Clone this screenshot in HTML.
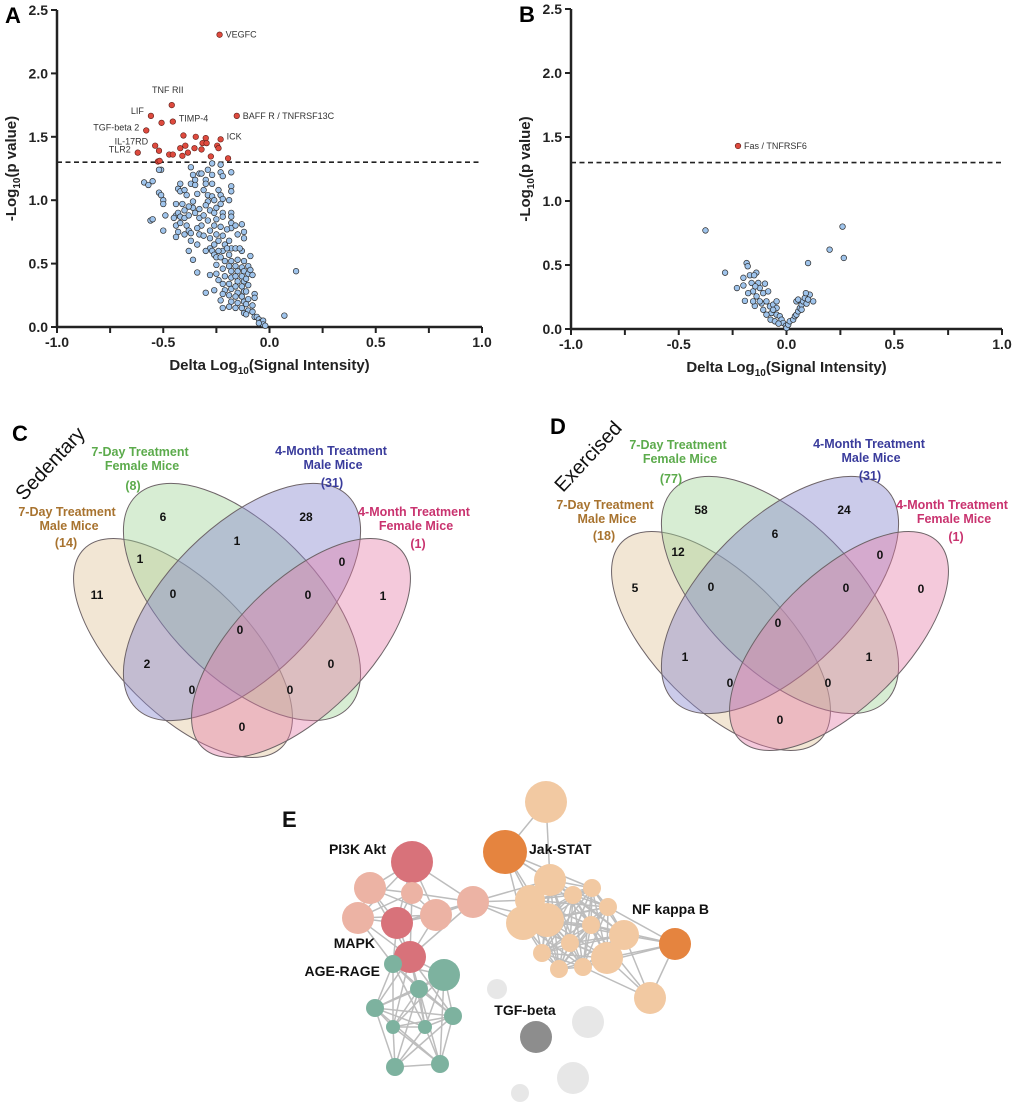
<!DOCTYPE html>
<html><head><meta charset="utf-8"><style>
body{margin:0;background:#fff;}
svg{display:block;font-family:"Liberation Sans",Arial,sans-serif;}
.tk{font-size:14px;font-weight:bold;fill:#222;}
.ttl{font-size:15px;font-weight:bold;fill:#222;}
.pl{font-size:22px;font-weight:bold;fill:#000;}
.gl{font-size:9px;fill:#333;}
.vn{font-size:12px;font-weight:bold;fill:#111;text-anchor:middle;}
.vl{font-size:12.5px;font-weight:bold;text-anchor:middle;}
.nl{font-weight:bold;fill:#111;}
</style></head><body>
<svg id="fig" width="1020" height="1113" viewBox="0 0 1020 1113" xmlns="http://www.w3.org/2000/svg">
<g id="pA"></g>
<g id="pB"></g>
<g id="pC"></g>
<g id="pD"></g>
<g id="pE"></g>
</svg>
<script>
const NS="http://www.w3.org/2000/svg";
// ---- Panel A data ----
const aSigX=[-0.235,-0.46,-0.558,-0.508,-0.455,-0.154,-0.58,-0.405,-0.347,-0.30,-0.23,-0.538,-0.52,-0.62,-0.42,-0.396,-0.353,-0.315,-0.296,-0.32,-0.246,-0.24,-0.384,-0.472,-0.455,-0.41,-0.276,-0.195,-0.525,-0.517];
const aSigY=[2.305,1.75,1.665,1.61,1.62,1.665,1.55,1.51,1.50,1.49,1.48,1.43,1.39,1.375,1.41,1.43,1.41,1.45,1.45,1.40,1.43,1.41,1.375,1.36,1.36,1.35,1.345,1.33,1.305,1.31];
const aLabels=["VEGFC","TNF RII","LIF","TIMP-4","BAFF R / TNFRSF13C","TGF-beta 2","ICK","IL-17RD","TLR2"];
const aLabelIdx=[0,1,2,4,5,6,10,11,13];
const aNsX=[-0.59,-0.57,-0.55,-0.51,-0.52,-0.52,-0.51,-0.50,-0.50,-0.56,-0.55,-0.49,-0.50,-0.43,-0.42,-0.42,-0.41,-0.44,-0.44,-0.43,-0.42,-0.44,-0.43,-0.44,-0.42,-0.40,-0.40,-0.38,-0.39,-0.38,-0.37,-0.40,-0.37,-0.38,-0.36,-0.34,-0.37,-0.36,-0.35,-0.37,-0.35,-0.33,-0.34,-0.36,-0.36,-0.33,-0.35,-0.33,-0.31,-0.32,-0.34,-0.33,-0.34,-0.31,-0.30,-0.30,-0.31,-0.29,-0.29,-0.30,-0.28,-0.29,-0.28,-0.28,-0.28,-0.27,-0.28,-0.30,-0.26,-0.27,-0.29,-0.27,-0.27,-0.27,-0.26,-0.25,-0.26,-0.25,-0.26,-0.25,-0.24,-0.26,-0.26,-0.25,-0.25,-0.25,-0.24,-0.23,-0.23,-0.22,-0.24,-0.23,-0.22,-0.23,-0.22,-0.22,-0.23,-0.22,-0.21,-0.22,-0.23,-0.21,-0.22,-0.21,-0.22,-0.21,-0.22,-0.23,-0.22,-0.18,-0.18,-0.18,-0.19,-0.18,-0.18,-0.18,-0.18,-0.19,-0.18,-0.19,-0.18,-0.19,-0.18,-0.18,-0.19,-0.18,-0.19,-0.18,-0.19,-0.16,-0.15,-0.16,-0.15,-0.16,-0.15,-0.16,-0.15,-0.16,-0.15,-0.16,-0.15,-0.16,-0.13,-0.12,-0.12,-0.13,-0.12,-0.13,-0.12,-0.13,-0.12,-0.13,-0.12,-0.13,-0.12,-0.13,-0.12,-0.10,-0.10,-0.11,-0.10,-0.11,-0.10,-0.11,-0.10,-0.11,-0.08,-0.07,-0.07,-0.08,-0.08,-0.07,-0.06,-0.05,-0.04,-0.03,-0.03,-0.02,-0.05,0.07,0.125,-0.32,-0.40,-0.39,-0.45,-0.38,-0.20,-0.14,-0.09,-0.20,-0.24,-0.30,-0.09];
const aNsY=[1.14,1.12,1.15,1.24,1.24,1.06,1.04,1.00,0.97,0.84,0.85,0.88,0.76,1.09,1.13,1.07,0.97,0.97,0.88,0.90,0.87,0.80,0.75,0.71,0.82,0.92,0.86,0.88,0.80,0.76,0.74,0.73,0.68,0.60,0.53,0.43,1.26,1.20,1.16,1.13,1.12,1.21,1.05,0.99,0.94,0.93,0.90,0.86,0.88,0.80,0.78,0.73,0.65,0.72,1.16,1.13,1.08,1.04,0.99,0.96,0.92,0.84,0.76,0.70,0.62,0.60,0.41,0.27,0.29,1.29,1.24,1.20,1.13,1.03,1.00,0.94,0.90,0.85,0.80,0.73,0.68,0.65,0.57,0.55,0.49,0.42,0.37,1.28,1.22,1.19,1.08,1.04,1.01,0.97,0.90,0.87,0.79,0.72,0.65,0.60,0.55,0.52,0.46,0.40,0.34,0.29,0.26,0.21,0.15,1.22,1.11,1.07,1.00,0.90,0.87,0.82,0.78,0.68,0.62,0.57,0.52,0.48,0.44,0.39,0.34,0.30,0.25,0.20,0.16,0.80,0.73,0.62,0.53,0.48,0.44,0.40,0.36,0.32,0.27,0.24,0.19,0.15,0.81,0.75,0.70,0.60,0.52,0.47,0.44,0.40,0.36,0.32,0.28,0.24,0.20,0.15,0.11,0.48,0.42,0.38,0.33,0.28,0.22,0.18,0.13,0.10,0.41,0.26,0.23,0.17,0.12,0.08,0.08,0.06,0.04,0.05,0.02,0.01,0.03,0.09,0.44,1.21,1.08,1.04,0.86,0.95,0.77,0.62,0.56,0.62,0.60,0.60,0.45];
// ---- Panel B data ----
const bSigX=[-0.225];
const bSigY=[1.43];
const bNsX=[-0.376,-0.285,0.26,0.20,0.266,0.10,-0.185,-0.18,-0.23,-0.20,-0.20,-0.17,-0.14,-0.15,-0.162,-0.131,-0.10,-0.155,-0.124,-0.139,-0.108,-0.147,-0.116,-0.093,-0.108,-0.077,-0.062,-0.046,-0.07,-0.046,-0.093,-0.031,-0.023,-0.015,-0.003,0,0.008,0.015,0.031,0.039,0.046,0.054,0.062,0.07,0.077,0.085,0.046,0.07,0.093,0.108,0.124,0.09,0.10,0.054,-0.046,-0.155,-0.062,-0.074,-0.054,-0.037,-0.193,-0.178,-0.085,-0.124,-0.145];
const bNsY=[0.77,0.44,0.80,0.62,0.555,0.515,0.515,0.49,0.32,0.34,0.40,0.42,0.44,0.42,0.36,0.36,0.354,0.294,0.32,0.255,0.28,0.18,0.20,0.216,0.15,0.177,0.19,0.216,0.125,0.112,0.112,0.10,0.073,0.047,0.026,0.008,0.034,0.06,0.073,0.10,0.112,0.138,0.164,0.19,0.216,0.242,0.216,0.151,0.198,0.268,0.216,0.28,0.23,0.23,0.164,0.216,0.15,0.073,0.06,0.042,0.22,0.28,0.294,0.216,0.333];
const yTicks=[0,0.5,1.0,1.5,2.0,2.5];
const xTicks=[-1,-0.5,0,0.5,1];
const threshold=1.3;

function el(tag,attrs,parent,txt){const e=document.createElementNS(NS,tag);for(const k in attrs)e.setAttribute(k,attrs[k]);if(txt!==undefined)e.textContent=txt;parent.appendChild(e);return e;}

function volcano(g,L,R,T,B,sigX,sigY,nsX,nsY,letter){
  const sx=v=>L+(v+1)/2*(R-L), sy=v=>B-v/2.5*(B-T);
  let t=el('text',{x:L-52,y:T+13,class:'pl'},g,letter);
  
  
  let ax=el('path',{d:`M${L},${T} V${B} H${R}`,fill:'none',stroke:'#222','stroke-width':2.5},g);
  
  
  yTicks.forEach(v=>{el('line',{x1:L-6,x2:L,y1:sy(v),y2:sy(v),stroke:'#222','stroke-width':2},g);
    const tl=el('text',{x:L-9,y:sy(v)+5,class:'tk','text-anchor':'end'},g,v.toFixed(1));
    
    });
  for(let v=-1;v<=1.001;v+=0.25){el('line',{x1:sx(v),x2:sx(v),y1:B,y2:B+6,stroke:'#222','stroke-width':2},g);}
  xTicks.forEach(v=>{const tl=el('text',{x:sx(v),y:B+20,class:'tk','text-anchor':'middle'},g,v.toFixed(1));
    
    });
  const xt=el('text',{x:(L+R)/2,y:B+43,class:'ttl','text-anchor':'middle'},g);
  
  
  xt.innerHTML='Delta Log<tspan font-size="10" dy="4">10</tspan><tspan dy="-4">(Signal Intensity)</tspan>';
  const yt=el('text',{transform:`translate(${L-41},${(T+B)/2}) rotate(-90)`,class:'ttl','text-anchor':'middle'},g);
  
  
  yt.innerHTML='-Log<tspan font-size="10" dy="4">10</tspan><tspan dy="-4">(p value)</tspan>';
  const th=el('line',{x1:L,x2:R,y1:sy(threshold),y2:sy(threshold),stroke:'#222','stroke-width':1.6,'stroke-dasharray':'5,3.5'},g);
  
  
  nsX.forEach((x,i)=>{const c=el('circle',{cx:sx(x),cy:sy(nsY[i]),r:2.8,fill:'#9fc4ec',stroke:'#2d2d2d','stroke-width':0.7},g);
    
    });
  sigX.forEach((x,i)=>{const c=el('circle',{cx:sx(x),cy:sy(sigY[i]),r:2.8,fill:'#de4a3e',stroke:'#5a1a14','stroke-width':0.6},g);
    
    });
  return {sx,sy};
}
const A=volcano(document.getElementById('pA'),57,482,10,327,aSigX,aSigY,aNsX,aNsY,'A');
const aOff=[[6,3,'start'],[-4,-12,'middle'],[-7,-2,'end'],[6,0,'start'],[6,3,'start'],[-7,0,'end'],[6,0,'start'],[-7,-1,'end'],[-7,0,'end']];
aLabelIdx.forEach((idx,k)=>{const o=aOff[k];const t=el('text',{x:A.sx(aSigX[idx])+o[0],y:A.sy(aSigY[idx])+o[1],class:'gl','text-anchor':o[2]},document.getElementById('pA'),aLabels[k]);
  
  });
const Bp=volcano(document.getElementById('pB'),571,1002,9,329,bSigX,bSigY,bNsX,bNsY,'B');
{const t=el('text',{x:Bp.sx(bSigX[0])+6,y:Bp.sy(bSigY[0])+3,class:'gl'},document.getElementById('pB'),'Fas / TNFRSF6');
 
 }

// ---- Venn ----
const vennC=[6,28,1,1,0,11,0,0,1,0,2,0,0,0,0];
const vennD=[58,24,6,12,0,5,0,0,0,0,1,1,0,0,0];
const vennCTotals=["(14)","(8)","(31)","(1)"];
const vennDTotals=["(18)","(77)","(31)","(1)"];
const regionPos=[[163,517],[306,517],[237,541],[140,559],[342,562],[97,595],[173,594],[308,595],[383,596],[240,630],[147,664],[331,664],[192,690],[290,690],[242,727]];
function venn(g,dx,dy,counts,totals,letter,cond){
  const gg=el('g',{transform:`translate(${dx},${dy})`},g);
  const ell=[[183,648,140,66,45,'rgba(226,199,160,0.45)','tan-ellipse'],[242,602,150,75,45,'rgba(160,212,150,0.42)','green-ellipse'],[242,602,150,75,-45,'rgba(130,130,205,0.42)','blue-ellipse'],[301,648,140,66,-45,'rgba(228,120,165,0.40)','pink-ellipse']];
  ell.forEach(e=>{const x=el('ellipse',{cx:e[0],cy:e[1],rx:e[2],ry:e[3],transform:`rotate(${e[4]} ${e[0]} ${e[1]})`,fill:e[5],stroke:'#6e6468','stroke-width':1},gg);
    
    });
  counts.forEach((c,i)=>{const t=el('text',{x:regionPos[i][0],y:regionPos[i][1]+4,class:'vn'},gg,String(c));
    
    });
  const labs=[[67,516,'#a8732f','7-Day Treatment','Male Mice',totals[0],66,547],[140,456,'#5cab4c','7-Day Treatment','Female Mice',totals[1],133,490],[331,455,'#3a3c9c','4-Month Treatment','Male Mice',totals[2],332,487],[414,516,'#c9336f','4-Month Treatment','Female Mice',totals[3],418,548]];
  labs.forEach(l=>{const t=el('text',{class:'vl',fill:l[2]},gg);
    
    
    el('tspan',{x:l[0],y:l[1]},t,l[3]);el('tspan',{x:l[0]+2,y:l[1]+14},t,l[4]);
    el('tspan',{x:l[6],y:l[7]},t,l[5]);});
  const lt=el('text',{x:12,y:441,class:'pl'},gg,letter);
  
  
  const ct=el('text',{transform:'translate(55,468) rotate(-47)','text-anchor':'middle','font-size':20,fill:'#111'},gg,cond);
  
  
}
venn(document.getElementById('pC'),0,0,vennC,vennCTotals,'C','Sedentary');
venn(document.getElementById('pD'),538,-7,vennD,vennDTotals,'D','Exercised');

// ---- Network ----
const nodeX=[546,505,412,370,412,358,397,436,473,410,393,444,419,375,453,393,425,395,440,497,588,536,573,520,550,530,523,547,573,592,608,591,570,542,559,583,607,624,675,650];
const nodeY=[802,852,862,888,893,918,923,915,902,957,964,975,989,1008,1016,1027,1027,1067,1064,989,1022,1037,1078,1093,880,900,923,920,895,888,907,925,943,953,969,967,958,935,944,998];
const nodeR=[21,22,21,16,11,16,16,16,16,16,9,16,9,9,9,7,7,9,9,10,16,16,16,9,16,15,17,17,9,9,9,9,9,9,9,9,16,15,16,16];
const nodeGroup=["p","o","r","s","s","s","r","s","s","r","g","g","g","g","g","g","g","g","g","x","x","d","x","x","p","p","p","p","p","p","p","p","p","p","p","p","p","p","o","p"];
const nodeColor={p:'#f2c9a2',o:'#e5843f',r:'#d8727a',s:'#ecb3a4',g:'#7db29f',x:'#e7e7e7',d:'#8d8d8d'};
const gE=document.getElementById('pE');
const clusterOf=g=>({p:1,o:1,r:2,s:2,g:3,x:0,d:0})[g];
for(let i=0;i<nodeX.length;i++)for(let j=i+1;j<nodeX.length;j++){
  const ci=clusterOf(nodeGroup[i]),cj=clusterOf(nodeGroup[j]);
  const d=Math.hypot(nodeX[i]-nodeX[j],nodeY[i]-nodeY[j]);
  let ok=false;
  if(ci&&ci===cj&&d<95)ok=true;
  if(((ci===2&&cj===3)||(ci===3&&cj===2))&&d<60)ok=true;
  if(((i===8&&j>=24&&j<=27))||(i===1&&(j===0||j===24||j===25)))ok=true;
  if(i===9&&(nodeGroup[j]==='g'))ok=d<80;
  if(ok){const l=el('line',{x1:nodeX[i],y1:nodeY[i],x2:nodeX[j],y2:nodeY[j],stroke:'#bdbdbd','stroke-width':1.5},gE);
    
    }
}
nodeX.forEach((x,i)=>{const c=el('circle',{cx:x,cy:nodeY[i],r:nodeR[i],fill:nodeColor[nodeGroup[i]]},gE);
  
  });
const nLabels=[['E',282,827,'start',22],['PI3K Akt',386,854,'end',14],['Jak-STAT',529,854,'start',14],['NF kappa B',632,914,'start',14],['MAPK',375,948,'end',14],['AGE-RAGE',380,976,'end',14],['TGF-beta',525,1015,'middle',14]];
nLabels.forEach(l=>{const t=el('text',{x:l[1],y:l[2],'text-anchor':l[3],class:'nl',style:'font-size:'+l[4]+'px'},gE,l[0]);
  
  });
</script>
</body></html>
